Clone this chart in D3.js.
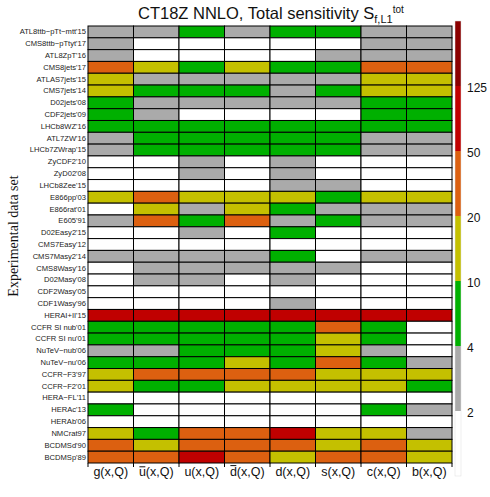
<!DOCTYPE html>
<html><head><meta charset="utf-8">
<script src="https://cdn.jsdelivr.net/npm/d3@7"></script>
<style>body{margin:0;background:#fff}svg{display:block}</style>
</head><body>
<svg id="c" width="490" height="497"></svg>
<script>
const datasets = ["ATL8ttb\u2212pTt\u2212mtt'15","CMS8ttb\u2212pTtyt'17","ATL8ZpT'16","CMS8jets'17","ATLAS7jets'15","CMS7jets'14","D02jets'08","CDF2jets'09","LHCb8WZ'16","ATL7ZW'16","LHCb7ZWrap'15","ZyCDF2'10","ZyD02'08","LHCb8Zee'15","E866pp'03","E866rat'01","E605'91","D02Easy2'15","CMS7Easy'12","CMS7Masy2'14","CMS8Wasy'16","D02Masy'08","CDF2Wasy'05","CDF1Wasy'96","HERAI+II'15","CCFR SI nub'01","CCFR SI nu'01","NuTeV\u2212nub'06","NuTeV\u2212nu'06","CCFR\u2212F3'97","CCFR\u2212F2'01","HERA\u2212FL'11","HERAc'13","HERAb'06","NMCrat97","BCDMSd'90","BCDMSp'89"];
const pdfs = ["g","ubar","u","dbar","d","s","c","b"];
// estimated total sensitivities per PDF flavour (one value per data set, top to bottom)
const gVals    = [3,3,3,30,14,14,6,6,6,3,3,1,1,1,14,1,3,1,1,3,1,1,1,1,80,6,6,3,6,14,14,1,6,1,14,30,30];
const ubarVals = [3,1,1,14,3,6,3,3,6,6,6,1,1,1,30,14,30,1,1,3,3,3,1,1,80,6,6,3,6,30,6,1,1,1,6,14,30];
const uVals    = [6,1,1,6,3,6,3,1,6,6,6,3,3,1,14,3,6,3,1,3,3,3,1,1,80,6,6,6,6,30,6,1,1,1,30,30,80];
const dbarVals = [3,1,1,14,3,6,3,1,6,6,6,1,1,1,14,14,30,1,1,3,3,1,1,1,80,6,6,6,14,30,14,1,1,1,30,30,30];
const dVals    = [6,1,1,6,3,3,3,1,6,6,6,3,3,3,14,6,3,6,1,6,3,3,1,3,80,6,6,6,6,30,14,1,1,1,80,30,14];
const sVals    = [6,1,3,6,3,6,3,1,6,6,6,1,1,3,6,3,6,1,1,1,3,1,1,1,80,30,14,14,30,14,14,1,1,1,14,14,30];
const cVals    = [3,3,3,30,14,14,6,6,6,3,3,1,1,1,14,3,3,1,1,3,1,1,1,1,80,6,6,3,6,14,14,1,6,1,14,30,30];
const bVals    = [3,3,3,30,14,14,6,6,6,3,3,1,1,1,14,3,3,1,1,3,1,1,1,1,80,1,1,1,3,14,6,1,3,1,3,14,14];
const colorBreaks = [2,4,10,20,50,125];
const colorList = ["#ffffff","#aaaaaa","#00b000","#c4c000","#dc6010","#c00000","#8b0000"];
const xLabels = ["g","u","u","d","d","s","c","b"];
const xBar = [false,true,false,true,false,false,false,false];

const series = [gVals,ubarVals,uVals,dbarVals,dVals,sVals,cVals,bVals];
const cells = [];
pdfs.forEach((p,j)=>datasets.forEach((ds,i)=>cells.push({p,ds,v:series[j][i]})));

const svg = d3.select("#c");
const x = d3.scaleBand().domain(pdfs).range([88,452]);
const y = d3.scaleBand().domain(datasets).range([26,463]);
const color = d3.scaleThreshold().domain(colorBreaks).range(colorList);

svg.append("g").selectAll("rect").data(cells).join("rect")
  .attr("x",d=>x(d.p)).attr("y",d=>y(d.ds))
  .attr("width",x.bandwidth()).attr("height",y.bandwidth())
  .attr("fill",d=>color(d.v)).attr("stroke","#000").attr("stroke-width",1);

// y labels
const yAx = svg.append("g").attr("transform","translate(88,0)")
  .call(d3.axisLeft(y).tickSize(0).tickPadding(2));
yAx.select(".domain").remove();
yAx.selectAll("text").attr("font-family","Liberation Sans, Arial, sans-serif").attr("font-size",7.6).attr("fill","#222");

// x ticks at column boundaries
const bounds = pdfs.map(p=>x(p)).concat([x.range()[1]]);
svg.append("g").selectAll("line").data(bounds).join("line")
  .attr("x1",d=>d).attr("x2",d=>d).attr("y1",463).attr("y2",467)
  .attr("stroke","#000").attr("stroke-width",1);

// x labels
const xl = svg.append("g").selectAll("text").data(pdfs).join("text")
  .attr("x",d=>x(d)+x.bandwidth()/2).attr("y",476)
  .attr("text-anchor","middle").attr("font-family","Liberation Sans, Arial, sans-serif")
  .attr("font-size",12.5).attr("fill","#111")
  .text((d,i)=>xLabels[i]+"(x,Q)");
xl.each(function(d,i){
  if(!xBar[i]) return;
  const e = this.getExtentOfChar(0);
  const yy = i===3 ? e.y+0.6 : e.y+1.8;
  d3.select(this.parentNode).append("line")
    .attr("x1",e.x+0.5).attr("x2",e.x+e.width-0.5)
    .attr("y1",yy).attr("y2",yy)
    .attr("stroke","#111").attr("stroke-width",1);
});

// y title
svg.append("text").attr("transform","translate(18,236) rotate(-90)")
  .attr("text-anchor","middle").attr("font-family","Liberation Serif, Times New Roman, serif")
  .attr("font-size",14).attr("fill","#111").text("Experimental data set");

// title
const tt = svg.append("text").attr("x",138).attr("y",19)
  .attr("font-family","Liberation Sans, Arial, sans-serif").attr("font-size",16.5).attr("fill","#111");
tt.append("tspan").text("CT18Z NNLO, Total sensitivity S");
tt.append("tspan").attr("font-size",11).attr("dy",4).text("f,L1");
tt.append("tspan").attr("font-size",10).attr("dy",-10).text("tot");

// colorbar
const cbTop = 21, cbBot = 476;
const cb = d3.scaleBand().domain(d3.range(colorList.length).reverse()).range([cbTop,cbBot]).paddingInner(0);
svg.append("g").selectAll("rect").data(d3.range(colorList.length)).join("rect")
  .attr("x",455).attr("width",6).attr("y",d=>cb(d)).attr("height",cb.bandwidth())
  .attr("fill",d=>colorList[d]);
svg.append("rect").attr("x",455).attr("y",cbTop).attr("width",6).attr("height",cbBot-cbTop)
  .attr("fill","none").attr("stroke","#ddd").attr("stroke-width",0.5);
svg.append("g").selectAll("text").data(colorBreaks).join("text")
  .attr("x",467).attr("y",(d,i)=>cb(i)+6)
  .attr("font-family","Liberation Sans, Arial, sans-serif").attr("font-size",12).attr("fill","#111")
  .text(d=>d);
</script>
</body></html>
